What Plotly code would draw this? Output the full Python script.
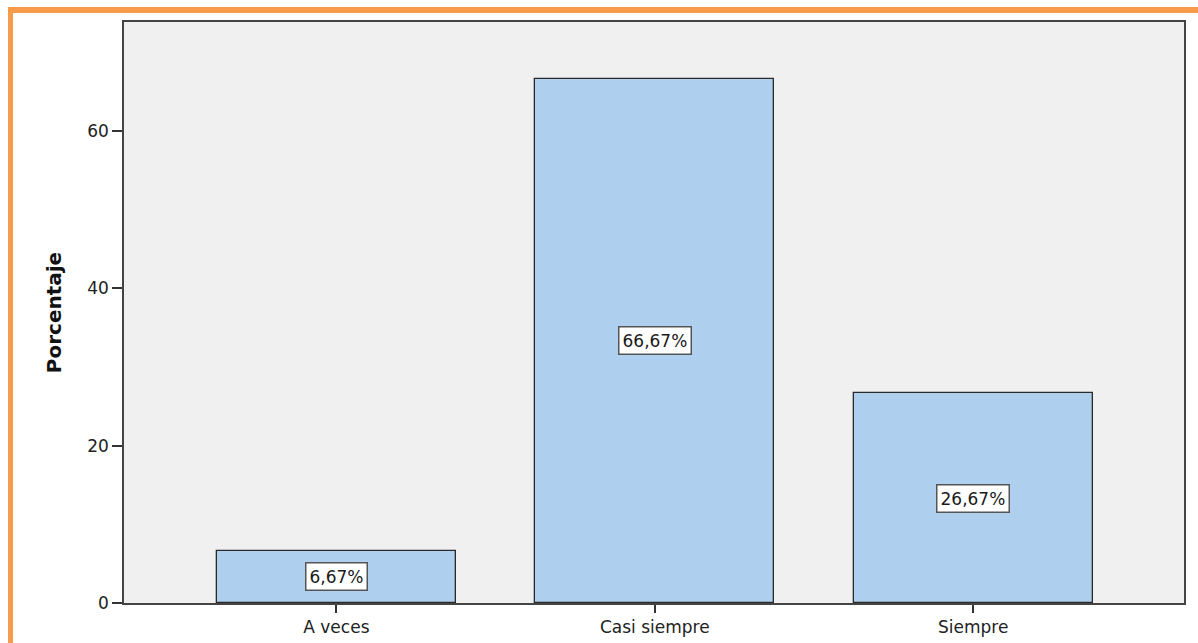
import plotly.graph_objects as go

categories = ["A veces", "Casi siempre", "Siempre"]
values = [6.67, 66.67, 26.67]
labels = ["6,67%", "66,67%", "26,67%"]
y_ticks = [0, 20, 40, 60]

W, H = 1198, 643
L, R, T, B = 124, 1184, 22, 603

def px(x):
    return (x - L) / (R - L)

def py(y):
    return (B - y) / (B - T)

FONT = "DejaVu Sans, Liberation Sans, Arial"

fig = go.Figure()
fig.add_trace(go.Bar(
    x=list(range(len(categories))), y=values, width=0.75,
    marker=dict(color="#aecfee", line=dict(color="#2a2a2a", width=1.3)),
    hoverinfo="skip",
))

for i, (v, t) in enumerate(zip(values, labels)):
    fig.add_annotation(
        x=i, y=v / 2, text=t, showarrow=False,
        font=dict(family=FONT, size=17, color="#1a1a1a"),
        bgcolor="white", bordercolor="#555555", borderwidth=1.5, borderpad=3,
    )

orange = "#f79a4a"
fig.add_shape(type="rect", xref="paper", yref="paper",
              x0=px(8), x1=px(W + 5), y0=py(13), y1=py(7),
              fillcolor=orange, line=dict(width=0), layer="above")
fig.add_shape(type="rect", xref="paper", yref="paper",
              x0=px(8), x1=px(13), y0=py(H + 5), y1=py(7),
              fillcolor=orange, line=dict(width=0), layer="above")

fig.update_layout(
    width=W, height=H,
    margin=dict(l=L, r=W - R, t=T, b=H - B),
    paper_bgcolor="white", plot_bgcolor="#f0f0f0",
    showlegend=False,
    bargap=0,
    font=dict(family=FONT, size=17, color="#333333"),
)
fig.update_xaxes(
    range=[-0.667, 2.662], automargin=False,
    tickmode="array", tickvals=list(range(len(categories))), ticktext=categories,
    ticks="outside", ticklen=8, tickcolor="#333333", tickwidth=1.5,
    showline=True, linecolor="#444444", linewidth=1.5, mirror=True,
    showgrid=False, zeroline=False,
    tickfont=dict(family=FONT, size=17, color="#222222"),
)
fig.update_yaxes(
    range=[0, 73.86], automargin=False,
    tickmode="array", tickvals=y_ticks, ticktext=[str(t) for t in y_ticks],
    ticks="outside", ticklen=10, tickcolor="#333333", tickwidth=1.5,
    showline=True, linecolor="#444444", linewidth=1.5, mirror=True,
    showgrid=False, zeroline=False,
    tickfont=dict(family=FONT, size=17, color="#222222"),
    title=dict(text="<b>Porcentaje</b>", font=dict(family=FONT, size=20, color="#111111"), standoff=20),
)

fig.write_html("out.html")
